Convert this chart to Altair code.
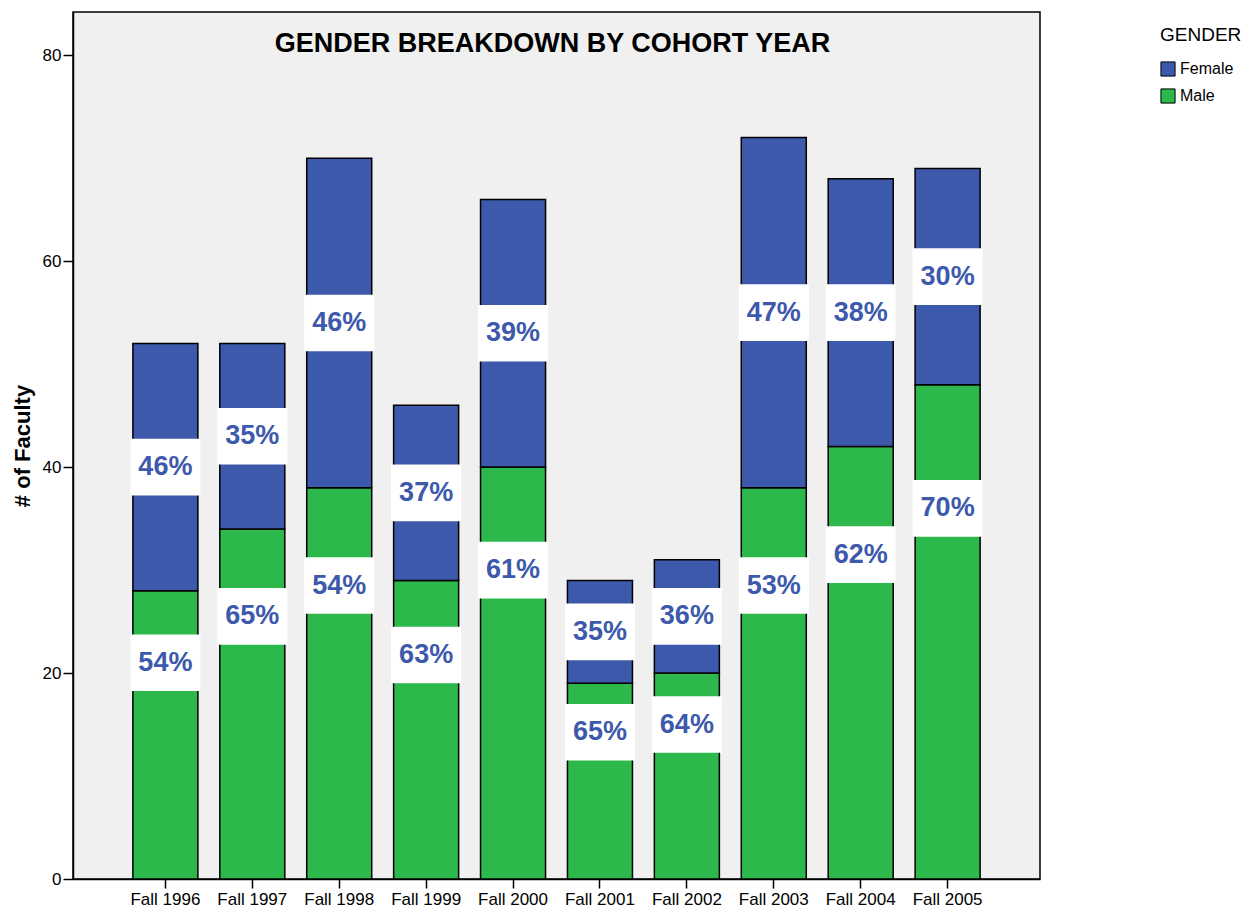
import altair as alt
import pandas as pd

years = ["Fall 1996", "Fall 1997", "Fall 1998", "Fall 1999", "Fall 2000",
         "Fall 2001", "Fall 2002", "Fall 2003", "Fall 2004", "Fall 2005"]
male = [28, 34, 38, 29, 40, 19, 20, 38, 42, 48]
female = [24, 18, 32, 17, 26, 10, 11, 34, 26, 21]
male_pct = [54, 65, 54, 63, 61, 65, 64, 53, 62, 70]
female_pct = [46, 35, 46, 37, 39, 35, 36, 47, 38, 30]
genders = ["Female", "Male"]
colors = ["#3D59AB", "#2DB84B"]
title_text = "GENDER BREAKDOWN BY COHORT YEAR"

rows = []
for yr, m, f, mp, fp in zip(years, male, female, male_pct, female_pct):
    tot = m + f
    rows.append({"year": yr, "gender": "Male", "y0": 0, "y1": m,
                 "pct": f"{mp}%", "lab": 0.75 * m})
    rows.append({"year": yr, "gender": "Female", "y0": m, "y1": tot,
                 "pct": f"{fp}%", "lab": m + f / 2})
df = pd.DataFrame(rows)
df["b0"] = df["lab"] - 2.75
df["b1"] = df["lab"] + 2.75

W, H = 967, 867
FONT = "Liberation Sans"

xenc = alt.X("year:N", sort=years, title=None,
             scale=alt.Scale(paddingOuter=0.663, paddingInner=0.2),
             axis=alt.Axis(labelAngle=0, labelFontSize=17, labelColor="black",
                           tickSize=9, tickColor="black", tickWidth=1.5,
                           domainColor="black", domainWidth=1.5, labelPadding=3,
                           labelFont=FONT))
yscale = alt.Scale(domain=[0, 84.2], nice=False, zero=True)

base = alt.Chart(df)

bars = base.mark_bar(width=65, stroke="black", strokeWidth=1.5).encode(
    x=xenc,
    y=alt.Y("y1:Q", scale=yscale, title="# of Faculty",
            axis=alt.Axis(values=[0, 20, 40, 60, 80], grid=False,
                          labelFontSize=17, labelColor="black", labelFont=FONT,
                          tickSize=10, tickColor="black", tickWidth=1.5,
                          domainColor="black", domainWidth=1.5, labelPadding=2,
                          titleFontSize=22, titleFont=FONT, titleFontWeight="bold",
                          titleColor="black", titleX=-51, titleBaseline="middle")),
    y2="y0:Q",
    color=alt.Color("gender:N", scale=alt.Scale(domain=genders, range=colors),
                    legend=alt.Legend(title="GENDER", orient="none",
                                      legendX=1087, legendY=14,
                                      titleFontSize=19, titleFontWeight="normal",
                                      titleFont=FONT, titleColor="black",
                                      labelFontSize=16, labelFont=FONT,
                                      labelColor="black", symbolType="square",
                                      symbolSize=200, symbolStrokeColor="black",
                                      symbolStrokeWidth=1, symbolOpacity=1,
                                      rowPadding=7, titlePadding=16,
                                      offset=0)),
)

boxes = base.mark_bar(width=70, color="white").encode(
    x=alt.X("year:N", sort=years),
    y=alt.Y("b0:Q", scale=yscale),
    y2="b1:Q",
)

labels = base.mark_text(fontSize=27, fontWeight="bold", color="#3D59AB",
                        font=FONT, baseline="middle").encode(
    x=alt.X("year:N", sort=years),
    y=alt.Y("lab:Q", scale=yscale),
    text="pct:N",
)

title = alt.Chart(pd.DataFrame({"t": [title_text]})).mark_text(
    fontSize=27, fontWeight="bold", color="black", font=FONT, baseline="middle"
).encode(x=alt.value(W / 2 - 4), y=alt.value(32), text="t:N")

chart = alt.layer(bars, boxes, labels, title).properties(
    width=W, height=H,
    autosize=alt.AutoSizeParams(type="none"),
    padding={"left": 65, "top": 4, "right": 203, "bottom": 31},
    background="white",
).configure_view(fill="#F0F0F0", stroke="black", strokeWidth=1.5)

chart.save("out.html", embed_options={"renderer": "svg", "actions": False})
